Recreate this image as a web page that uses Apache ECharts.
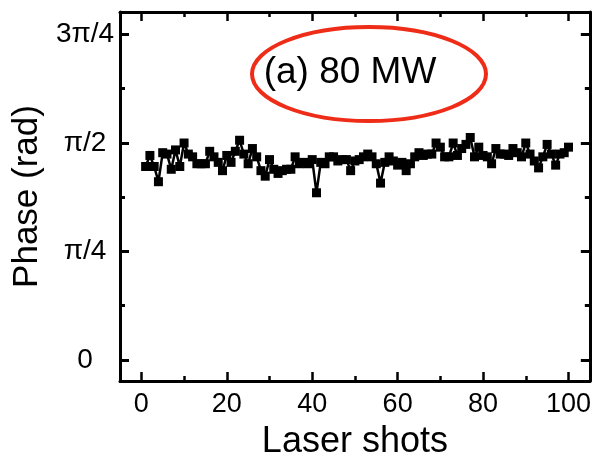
<!DOCTYPE html>
<html>
<head>
<meta charset="utf-8">
<script src="https://cdn.jsdelivr.net/npm/echarts@6/dist/echarts.min.js"></script>
<style>
  html, body { margin: 0; padding: 0; background: #fff; }
  #chart { width: 594px; height: 465px; }
</style>
</head>
<body>
<div id="chart"></div>
<script>
// 激光脉冲序号与相位数据（单位 rad）
const shots = Array.from({ length: 100 }, (_, i) => i + 1);
const phase = [
  1.40, 1.48, 1.40, 1.29, 1.50, 1.49, 1.38, 1.52, 1.40, 1.57,
  1.49, 1.47, 1.42, 1.42, 1.42, 1.51, 1.47, 1.43, 1.37, 1.48,
  1.43, 1.51, 1.59, 1.49, 1.42, 1.53, 1.47, 1.37, 1.33, 1.45,
  1.38, 1.35, 1.37, 1.38, 1.38, 1.47, 1.42, 1.43, 1.42, 1.45,
  1.21, 1.43, 1.42, 1.47, 1.47, 1.44, 1.45, 1.45, 1.37, 1.44,
  1.45, 1.47, 1.49, 1.47, 1.42, 1.28, 1.43, 1.47, 1.44, 1.41,
  1.43, 1.37, 1.42, 1.47, 1.50, 1.48, 1.49, 1.49, 1.57, 1.54,
  1.47, 1.47, 1.57, 1.48, 1.53, 1.56, 1.61, 1.47, 1.54, 1.48,
  1.47, 1.42, 1.53, 1.49, 1.49, 1.48, 1.53, 1.50, 1.47, 1.57,
  1.49, 1.44, 1.39, 1.47, 1.56, 1.49, 1.41, 1.49, 1.50, 1.54
];

// 刻度
const xMajorTicks = [0, 20, 40, 60, 80, 100];
const xMinorTicks = [10, 30, 50, 70, 90];
const yMajorTicks = [0, Math.PI / 4, Math.PI / 2, 3 * Math.PI / 4];
const yMajorLabels = ['0', 'π/4', 'π/2', '3π/4'];
const yMinorTicks = [Math.PI / 8, 3 * Math.PI / 8, 5 * Math.PI / 8];

const font = "'Liberation Sans', Arial, sans-serif";
const xRange = { min: -5, max: 105 };
const yRange = { min: -0.152, max: 2.518 };

function xAxisDef(position, ticks, len, withLabel, withLine) {
  return {
    type: 'value',
    position: position,
    min: xRange.min,
    max: xRange.max,
    splitLine: { show: false },
    axisLine: { show: withLine, onZero: false, lineStyle: { color: '#000', width: 3 } },
    axisTick: { show: true, inside: true, length: len, customValues: ticks, lineStyle: { color: '#000', width: 2.5 } },
    axisLabel: withLabel ? {
      show: true, customValues: ticks, margin: 10,
      fontSize: 27, color: '#000', fontFamily: font
    } : { show: false }
  };
}

function yAxisDef(position, ticks, len, withLabel, withLine) {
  return {
    type: 'value',
    position: position,
    min: yRange.min,
    max: yRange.max,
    splitLine: { show: false },
    axisLine: { show: withLine, onZero: false, lineStyle: { color: '#000', width: 3 } },
    axisTick: { show: true, inside: true, length: len, customValues: ticks, lineStyle: { color: '#000', width: 3 } },
    axisLabel: withLabel ? {
      show: true, customValues: ticks, margin: 35, align: 'center',
      fontSize: 28, color: '#000', fontFamily: font,
      formatter: function (v) {
        const i = yMajorTicks.findIndex(t => Math.abs(t - v) < 1e-6);
        return i >= 0 ? yMajorLabels[i] : '';
      }
    } : { show: false }
  };
}

const chart = echarts.init(document.getElementById('chart'));

const xAxes = [
  xAxisDef('bottom', xMajorTicks, 9, true, true),
  xAxisDef('bottom', xMinorTicks, 5, false, false),
  xAxisDef('top', xMajorTicks, 9, false, true),
  xAxisDef('top', xMinorTicks, 5, false, false)
];
xAxes[0].name = 'Laser shots';
xAxes[0].nameLocation = 'middle';
xAxes[0].nameGap = 43;
xAxes[0].nameTextStyle = { fontSize: 36, color: '#000', fontFamily: font };

const yAxes = [
  yAxisDef('left', yMajorTicks, 9, true, true),
  yAxisDef('left', yMinorTicks, 5, false, false),
  yAxisDef('right', yMajorTicks, 9, false, true),
  yAxisDef('right', yMinorTicks, 5, false, false)
];
yAxes[0].name = 'Phase (rad)';
yAxes[0].nameLocation = 'middle';
yAxes[0].nameGap = 65;
yAxes[0].nameTextStyle = { fontSize: 35, color: '#000', fontFamily: font };

chart.setOption({
  animation: false,
  backgroundColor: '#fff',
  grid: { left: 120, right: 4, top: 12, bottom: 84 },
  xAxis: xAxes,
  yAxis: yAxes,
  graphic: [
    {
      type: 'ellipse',
      shape: { cx: 369, cy: 74, rx: 117, ry: 47 },
      style: { fill: 'none', stroke: '#ee2c18', lineWidth: 4 }
    },
    {
      type: 'text',
      x: 350, y: 73,
      style: {
        text: '(a) 80 MW', fontSize: 37, fontFamily: font, fill: '#000',
        align: 'center', verticalAlign: 'middle'
      }
    }
  ],
  series: [{
    type: 'line',
    xAxisIndex: 0,
    yAxisIndex: 0,
    data: shots.map((s, i) => [s, phase[i]]),
    symbol: 'rect',
    symbolSize: 9,
    showSymbol: true,
    lineStyle: { color: '#000', width: 2.5 },
    itemStyle: { color: '#000' }
  }]
});
</script>
</body>
</html>
